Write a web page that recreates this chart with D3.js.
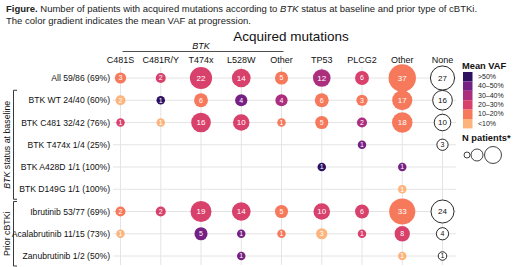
<!DOCTYPE html>
<html>
<head>
<meta charset="utf-8">
<script src="https://cdn.jsdelivr.net/npm/d3@7"></script>
<style>
  body { margin: 0; background: #fff; }
  svg { font-family: "Liberation Sans", Arial, sans-serif; }
</style>
</head>
<body>
<svg id="chart" width="520" height="267"></svg>
<script>
const width = 520, height = 267;

// columns of acquired mutations (first five are BTK)
const columns = ["C481S", "C481R/Y", "T474x", "L528W", "Other", "TP53", "PLCG2", "Other"];
const rowLabels = [
  "All 59/86 (69%)",
  "BTK WT 24/40 (60%)",
  "BTK C481 32/42 (76%)",
  "BTK T474x 1/4 (25%)",
  "BTK A428D 1/1 (100%)",
  "BTK D149G 1/1 (100%)",
  "Ibrutinib 53/77 (69%)",
  "Acalabrutinib 11/15 (73%)",
  "Zanubrutinib 1/2 (50%)"
];

// number of patients per cell (null = none)
const counts = [
  [3, 2, 22, 14, 5, 12, 6, 37],
  [2, 1, 6, 4, 4, 6, 3, 17],
  [1, 1, 16, 10, 1, 5, 2, 18],
  [null, null, null, null, null, null, 1, null],
  [null, null, null, null, null, 1, null, 1],
  [null, null, null, null, null, null, null, 1],
  [2, 2, 19, 14, 5, 10, 6, 33],
  [1, null, 5, 1, 1, 3, 1, 8],
  [null, null, null, 1, null, null, null, 1]
];

// mean VAF class per cell: 0 = <10%, 1 = 10-20%, 2 = 20-30%, 3 = 30-40%, 4 = 40-50%, 5 = >50%
const vafClass = [
  [1, 2, 2, 2, 1, 3, 2, 1],
  [0, 5, 1, 4, 3, 1, 1, 1],
  [2, 0, 2, 2, 1, 1, 3, 1],
  [null, null, null, null, null, null, 4, null],
  [null, null, null, null, null, 5, null, 4],
  [null, null, null, null, null, null, null, 0],
  [1, 2, 2, 2, 1, 2, 2, 1],
  [0, null, 4, 4, 1, 0, 2, 2],
  [null, null, null, 4, null, null, null, 0]
];

// patients with no acquired mutation
const noneCounts = [27, 16, 10, 3, null, null, 24, 4, 1];

const vafLabels = ["<10%", "10\u201320%", "20\u201330%", "30\u201340%", "40\u201350%", ">50%"];
const vafColors = ["#fdb47c", "#f6795c", "#d8416b", "#ac2f7e", "#762083", "#2e1160"];

const groups = [
  { name: "status", first: 1, last: 5 },
  { name: "prior", first: 6, last: 8 }
];

const svg = d3.select("#chart");

// caption
const cap = svg.append("text").attr("x", 6).attr("y", 12)
  .attr("font-size", 9.5).attr("fill", "#222");
cap.append("tspan").attr("font-weight", "bold").text("Figure.");
cap.append("tspan").text(" Number of patients with acquired mutations according to ");
cap.append("tspan").attr("font-style", "italic").text("BTK");
cap.append("tspan").text(" status at baseline and prior type of cBTKi.");
svg.append("text").attr("x", 6).attr("y", 23.5)
  .attr("font-size", 9.5).attr("fill", "#222")
  .text("The color gradient indicates the mean VAF at progression.");

// scales
const x = d3.scalePoint()
  .domain(d3.range(columns.length + 1))
  .range([120.5, 442.5]);

const y = d3.scalePoint()
  .domain(d3.range(rowLabels.length))
  .range([78, 256]);

const r = d3.scaleSqrt()
  .domain([0, 37])
  .range([2.4, 13.7]);

const color = d3.scaleOrdinal()
  .domain(d3.range(vafLabels.length))
  .range(vafColors);

// grid lines
const grid = svg.append("g");
grid.selectAll("line.h")
  .data(rowLabels)
  .join("line")
  .attr("x1", 113).attr("x2", 456)
  .attr("y1", (d, i) => y(i)).attr("y2", (d, i) => y(i))
  .attr("stroke", "#e4e4e4").attr("stroke-width", 1);
grid.selectAll("line.v")
  .data(d3.range(columns.length + 1))
  .join("line")
  .attr("x1", d => x(d)).attr("x2", d => x(d))
  .attr("y1", 67).attr("y2", 265)
  .attr("stroke", "#e4e4e4").attr("stroke-width", 1);

// headers
svg.append("text").attr("x", 291).attr("y", 41)
  .attr("text-anchor", "middle").attr("font-size", 13.5).attr("fill", "#111")
  .text("Acquired mutations");
svg.append("text").attr("x", (x(0) + x(4)) / 2).attr("y", 49)
  .attr("text-anchor", "middle").attr("font-size", 9).attr("font-style", "italic")
  .attr("fill", "#111").text("BTK");
svg.append("line")
  .attr("x1", x(0) + 2).attr("x2", x(4) + 2)
  .attr("y1", 51.5).attr("y2", 51.5)
  .attr("stroke", "#222").attr("stroke-width", 0.8);

svg.append("g").selectAll("text")
  .data(columns.concat(["None"]))
  .join("text")
  .attr("x", (d, i) => x(i)).attr("y", 63)
  .attr("text-anchor", "middle").attr("font-size", 9).attr("fill", "#111")
  .text(d => d);

// row labels
svg.append("g").selectAll("text")
  .data(rowLabels)
  .join("text")
  .attr("x", 110).attr("y", (d, i) => y(i) + 3)
  .attr("text-anchor", "end").attr("font-size", 8.6).attr("fill", "#111")
  .text(d => d);

// group brackets
groups.forEach(g => {
  const top = y(g.first) - 10, bottom = y(g.last) + 10;
  svg.append("path")
    .attr("d", `M17,${top}H13.5V${bottom}H17`)
    .attr("fill", "none").attr("stroke", "#222").attr("stroke-width", 0.9);
  const lbl = svg.append("text")
    .attr("transform", `translate(10,${(top + bottom) / 2}) rotate(-90)`)
    .attr("text-anchor", "middle").attr("font-size", 8.8).attr("fill", "#111");
  if (g.name === "status") {
    lbl.append("tspan").attr("font-style", "italic").text("BTK");
    lbl.append("tspan").text(" status at baseline");
  } else {
    lbl.text("Prior cBTKi");
  }
});

// bubbles
const cells = [];
counts.forEach((row, i) => row.forEach((n, j) => {
  if (n != null) cells.push({ row: i, col: j, n: n, vaf: vafClass[i][j] });
}));

const bubbles = svg.append("g").selectAll("g")
  .data(cells)
  .join("g")
  .attr("transform", d => `translate(${x(d.col)},${y(d.row)})`);
bubbles.append("circle")
  .attr("r", d => r(d.n))
  .attr("fill", d => color(d.vaf));
bubbles.append("text")
  .attr("text-anchor", "middle").attr("dy", "0.35em")
  .attr("font-size", d => d.n > 9 ? 8 : 7)
  .attr("fill", "#fff")
  .text(d => d.n);

// none column
const noneCells = noneCounts.map((n, i) => ({ row: i, n: n })).filter(d => d.n != null);
const none = svg.append("g").selectAll("g")
  .data(noneCells)
  .join("g")
  .attr("transform", d => `translate(${x(columns.length)},${y(d.row)})`);
none.append("circle")
  .attr("r", d => r(d.n))
  .attr("fill", "#fff").attr("stroke", "#111").attr("stroke-width", 0.9);
none.append("text")
  .attr("text-anchor", "middle").attr("dy", "0.35em")
  .attr("font-size", d => d.n > 9 ? 8 : 7)
  .attr("fill", "#111")
  .text(d => d.n);

// legend: mean VAF
const legend = svg.append("g").attr("transform", "translate(463,0)");
legend.append("text").attr("x", -1).attr("y", 69)
  .attr("font-size", 9.3).attr("font-weight", "bold").attr("fill", "#111")
  .text("Mean VAF");
const sw = legend.selectAll("g.sw")
  .data(d3.range(vafLabels.length).reverse())
  .join("g")
  .attr("transform", (d, i) => `translate(0,${72 + i * 9.4})`);
sw.append("rect").attr("width", 9.5).attr("height", 9.4)
  .attr("fill", d => color(d));
sw.append("text").attr("x", 15).attr("y", 6.8)
  .attr("font-size", 7).attr("fill", "#222")
  .text(d => vafLabels[d]);

// legend: N patients
legend.append("text").attr("x", -1).attr("y", 141)
  .attr("font-size", 9.3).attr("font-weight", "bold").attr("fill", "#111")
  .text("N patients*");
const sizes = [3, 6, 8.5];
legend.selectAll("circle.sz")
  .data(sizes)
  .join("circle")
  .attr("cx", (d, i) => [4, 14, 30][i])
  .attr("cy", 155)
  .attr("r", d => d)
  .attr("fill", "#fff").attr("stroke", "#111").attr("stroke-width", 0.8);
</script>
</body>
</html>
